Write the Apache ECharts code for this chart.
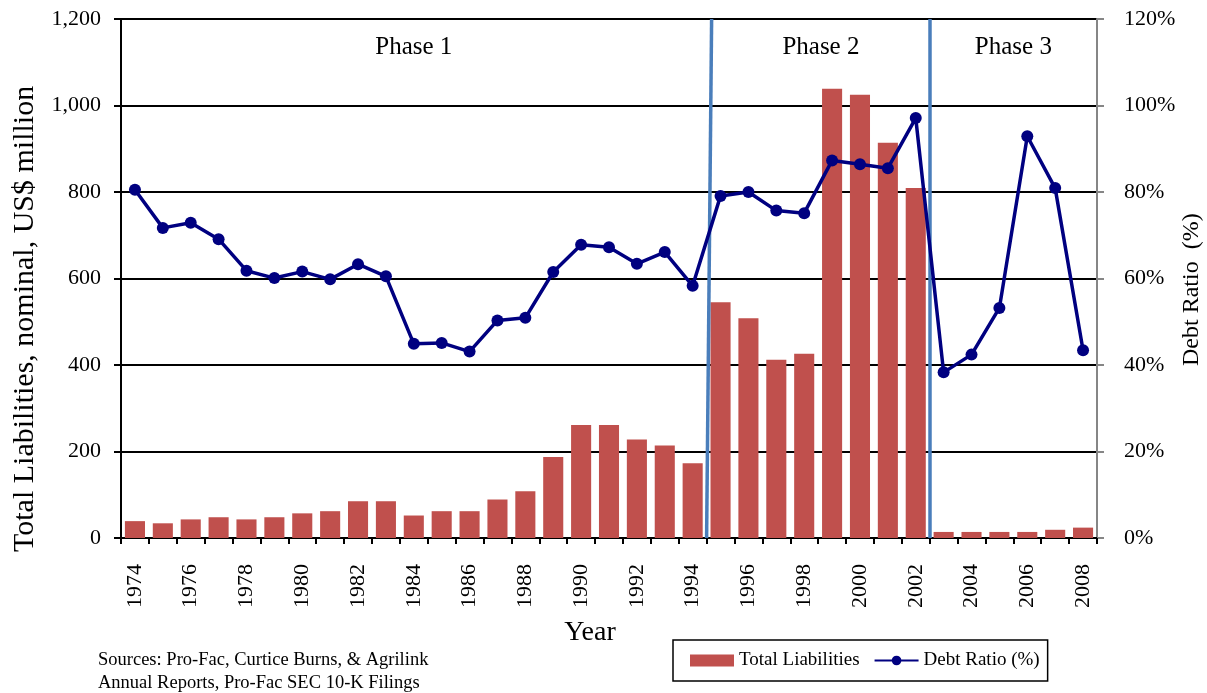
<!DOCTYPE html>
<html>
<head>
<meta charset="utf-8">
<script src="https://cdn.jsdelivr.net/npm/echarts@6/dist/echarts.min.js"></script>
<style>
html,body{margin:0;padding:0;background:#fff;}
#chart{width:1207px;height:693px;}
</style>
</head>
<body>
<div id="chart"></div>
<script>
// ---- data ----
var years = ['1974','1975','1976','1977','1978','1979','1980','1981','1982','1983','1984','1985','1986','1987','1988','1989','1990','1991','1992','1993','1994','1995','1996','1997','1998','1999','2000','2001','2002','2003','2004','2005','2006','2007','2008'];
var totalLiabilities = [39,34,43,48,43,48,57,62,85,85,52,62,62,89,108,187,261,261,228,214,173,545,508,412,426,1039,1025,914,809,14,14,14,14,19,24];
var debtRatio = [80.5,71.7,72.9,69.1,61.8,60.1,61.6,59.8,63.3,60.5,44.9,45.1,43.1,50.3,50.9,61.5,67.8,67.2,63.4,66.1,58.3,79.1,80.0,75.7,75.1,87.3,86.4,85.5,97.1,38.3,42.4,53.2,92.9,80.9,43.4];
var leftTicks = [0,200,400,600,800,1000,1200];
var rightTicks = [0,20,40,60,80,100,120];
// phase boundaries in category units (0 = left edge of 1974)
var phaseBoundaries = [[[21,0],[21.18,1200]], [[29,0],[29,1200]]];
var phaseLabels = [['Phase 1',10.5,1135],['Phase 2',25.1,1135],['Phase 3',32,1135]];
var sourcesText = ['Sources: Pro-Fac, Curtice Burns, & Agrilink','Annual Reports, Pro-Fac SEC 10-K Filings'];

var FONT = "'Liberation Serif','Times New Roman',serif";
var chart = echarts.init(document.getElementById('chart'), null, {renderer:'canvas'});

var option = {
  backgroundColor:'#fff',
  animation:false,
  textStyle:{fontFamily:FONT,color:'#000'},
  grid:{left:121,right:110,top:19,bottom:155,show:true,borderColor:'#868686',borderWidth:2,containLabel:false},
  legend:{
    data:[{name:'Total Liabilities',icon:'rect'},{name:'Debt Ratio (%)'}],
    left:673, top:640,
    orient:'horizontal',
    itemWidth:44, itemHeight:12, itemGap:14,
    padding:[11,8,11,17],
    borderColor:'#000', borderWidth:1.5,
    textStyle:{fontFamily:FONT,fontSize:19,color:'#000'}
  },
  xAxis:[{
    type:'category', data:years, boundaryGap:true,
    axisLine:{lineStyle:{color:'#000',width:2}},
    axisTick:{show:true,interval:0,inside:false,length:6,lineStyle:{color:'#000',width:2}},
    axisLabel:{interval:1,rotate:90,fontSize:22,margin:26,color:'#000',fontFamily:FONT},
    splitLine:{show:false}
  },{
    type:'value', min:0, max:35, show:false
  }],
  yAxis:[{
    type:'value', min:0, max:1200, interval:200, position:'left',
    axisLine:{show:true,lineStyle:{color:'#000',width:2}},
    axisTick:{show:true,inside:false,length:7,lineStyle:{color:'#000',width:2}},
    axisLabel:{fontSize:22,margin:20,color:'#000',fontFamily:FONT,
      formatter:function(v){return v.toLocaleString('en-US');}},
    splitLine:{show:true,lineStyle:{color:'#000',width:2}}
  },{
    type:'value', min:0, max:120, interval:20, position:'right',
    axisLine:{show:true,lineStyle:{color:'#868686',width:2}},
    axisTick:{show:true,inside:false,length:7,lineStyle:{color:'#868686',width:2}},
    axisLabel:{fontSize:22,margin:27,color:'#000',fontFamily:FONT,formatter:'{value}%'},
    splitLine:{show:false}
  }],
  series:[{
    name:'Total Liabilities', type:'bar', data:totalLiabilities,
    xAxisIndex:0, yAxisIndex:0,
    barCategoryGap:'28%',
    itemStyle:{color:'#C0504D'},
    z:2
  },{
    name:'phases', type:'lines', coordinateSystem:'cartesian2d',
    xAxisIndex:1, yAxisIndex:0,
    data:phaseBoundaries.map(function(c){return {coords:c};}),
    lineStyle:{color:'#4A7EBB',width:3.5,opacity:1},
    z:3, silent:true
  },{
    name:'phaseText', type:'scatter', xAxisIndex:1, yAxisIndex:0,
    symbolSize:1,
    itemStyle:{opacity:1,color:'rgba(0,0,0,0)'},
    data:phaseLabels.map(function(p){return {name:p[0],value:[p[1],p[2]]};}),
    label:{show:true,position:'inside',formatter:'{b}',fontSize:25,fontFamily:FONT,color:'#000',opacity:1,textBorderWidth:0},
    z:4, silent:true
  },{
    name:'Debt Ratio (%)', type:'line', data:debtRatio,
    xAxisIndex:0, yAxisIndex:1,
    symbol:'circle', symbolSize:12,
    lineStyle:{color:'#000080',width:3.5},
    itemStyle:{color:'#000080'},
    z:5
  }],
  graphic:[
    {type:'text', x:10, y:552, rotation:Math.PI/2, style:{text:'Total Liabilities, nominal, US$ million', font:'30px '+FONT, fill:'#000'}},
    {type:'text', x:1180, y:366, rotation:Math.PI/2, style:{text:'Debt Ratio  (%)', font:'24px '+FONT, fill:'#000'}},
    {type:'text', x:590, y:633, style:{text:'Year', font:'28px '+FONT, fill:'#000', align:'center', verticalAlign:'middle'}},
    {type:'text', x:98, y:660, style:{text:sourcesText[0], font:'18.5px '+FONT, fill:'#000', verticalAlign:'middle'}},
    {type:'text', x:98, y:683, style:{text:sourcesText[1], font:'18.5px '+FONT, fill:'#000', verticalAlign:'middle'}}
  ]
};
chart.setOption(option);
</script>
</body>
</html>
